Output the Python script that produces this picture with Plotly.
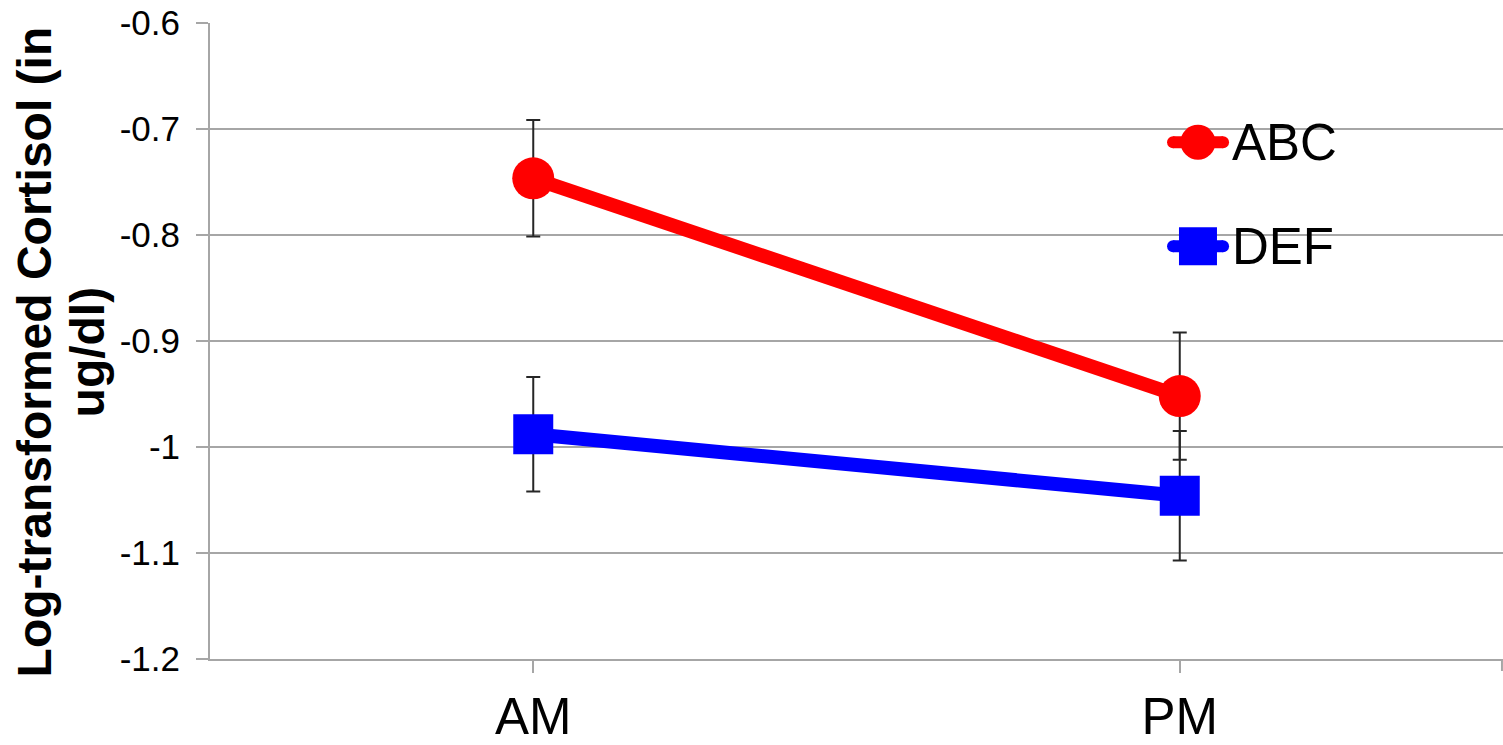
import plotly.graph_objects as go

# Sampling times and group means (log-transformed cortisol, ug/dl)
times = ["AM", "PM"]
abc_mean = [-0.7465, -0.952]
abc_err = [0.055, 0.060]
def_mean = [-0.988, -1.046]
def_err = [0.054, 0.061]

y_ticks = [-1.2, -1.1, -1.0, -0.9, -0.8, -0.7, -0.6]
y_tick_text = ["-1.2", "-1.1", "-1", "-0.9", "-0.8", "-0.7", "-0.6"]

RED = "#ff0000"
BLUE = "#0000ff"
GRID = "#a6a6a6"
FONT = "Liberation Sans, Arial, sans-serif"

fig = go.Figure()

fig.add_trace(go.Scatter(
    x=times, y=def_mean, mode="lines+markers", name="DEF",
    line=dict(color=BLUE, width=14),
    marker=dict(symbol="square", size=40, color=BLUE, opacity=1),
    error_y=dict(type="data", array=def_err, visible=True,
                 color="#262626", thickness=2, width=7),
    showlegend=False,
))
fig.add_trace(go.Scatter(
    x=times, y=abc_mean, mode="lines+markers", name="ABC",
    line=dict(color=RED, width=14),
    marker=dict(symbol="circle", size=42, color=RED, opacity=1),
    error_y=dict(type="data", array=abc_err, visible=True,
                 color="#262626", thickness=2, width=7),
    showlegend=False,
))

# Hand-built legend on an overlay axis (0..1 in both directions)
legend_items = [("ABC", RED, "circle", 0.8125), ("DEF", BLUE, "square", 0.649)]
for label, color, sym, ly in legend_items:
    fig.add_trace(go.Scatter(
        x=[0.7448, 0.7641, 0.7835], y=[ly, ly, ly],
        xaxis="x2", yaxis="y2", mode="lines+markers",
        line=dict(color=color, width=12),
        marker=dict(symbol=["circle", sym, "circle"],
                    size=[12, 35 if sym == "circle" else 38, 12],
                    color=color, opacity=1, line=dict(width=0)),
        showlegend=False, hoverinfo="skip",
    ))
    fig.add_annotation(
        x=0.7885, y=ly, xref="x2", yref="y2", text=label, showarrow=False,
        xanchor="left", yanchor="middle",
        font=dict(family=FONT, size=51, color="black"),
    )

# Two-line rotated y-axis title
fig.add_annotation(
    x=-0.1355, y=0.4833, xref="paper", yref="paper",
    text="<b>Log-transformed Cortisol (in</b>", textangle=-90, showarrow=False,
    xanchor="center", yanchor="middle",
    font=dict(family=FONT, size=48, color="black"),
)
fig.add_annotation(
    x=-0.0945, y=0.4833, xref="paper", yref="paper",
    text="<b>ug/dl)</b>", textangle=-90, showarrow=False,
    xanchor="center", yanchor="middle",
    font=dict(family=FONT, size=48, color="black"),
)

# Category-boundary tick at the right end of the x axis
fig.add_shape(type="line", xref="paper", yref="paper",
              x0=0.9992, x1=0.9992, y0=0, y1=-12 / 636.3,
              line=dict(color=GRID, width=2))

fig.update_layout(
    width=1503, height=745,
    margin=dict(l=210, r=0, t=23, b=86),
    paper_bgcolor="white", plot_bgcolor="white",
    font=dict(family=FONT, color="black"),
    xaxis=dict(
        type="category", range=[-0.5, 1.5],
        showline=True, linecolor=GRID, linewidth=2,
        ticks="outside", ticklen=12, tickwidth=2, tickcolor=GRID,
        showgrid=False, tickfont=dict(size=51, color="black"),
    ),
    yaxis=dict(
        range=[-1.2, -0.6], tickvals=y_ticks, ticktext=y_tick_text,
        showline=True, linecolor=GRID, linewidth=2,
        ticks="outside", ticklen=12, tickwidth=2, tickcolor=GRID,
        showgrid=True, gridcolor=GRID, gridwidth=2, zeroline=False,
        tickfont=dict(size=35, color="black"), ticklabelstandoff=9,
    ),
    xaxis2=dict(overlaying="x", range=[0, 1], visible=False),
    yaxis2=dict(overlaying="y", range=[0, 1], visible=False),
)

fig.write_html("out.html")
